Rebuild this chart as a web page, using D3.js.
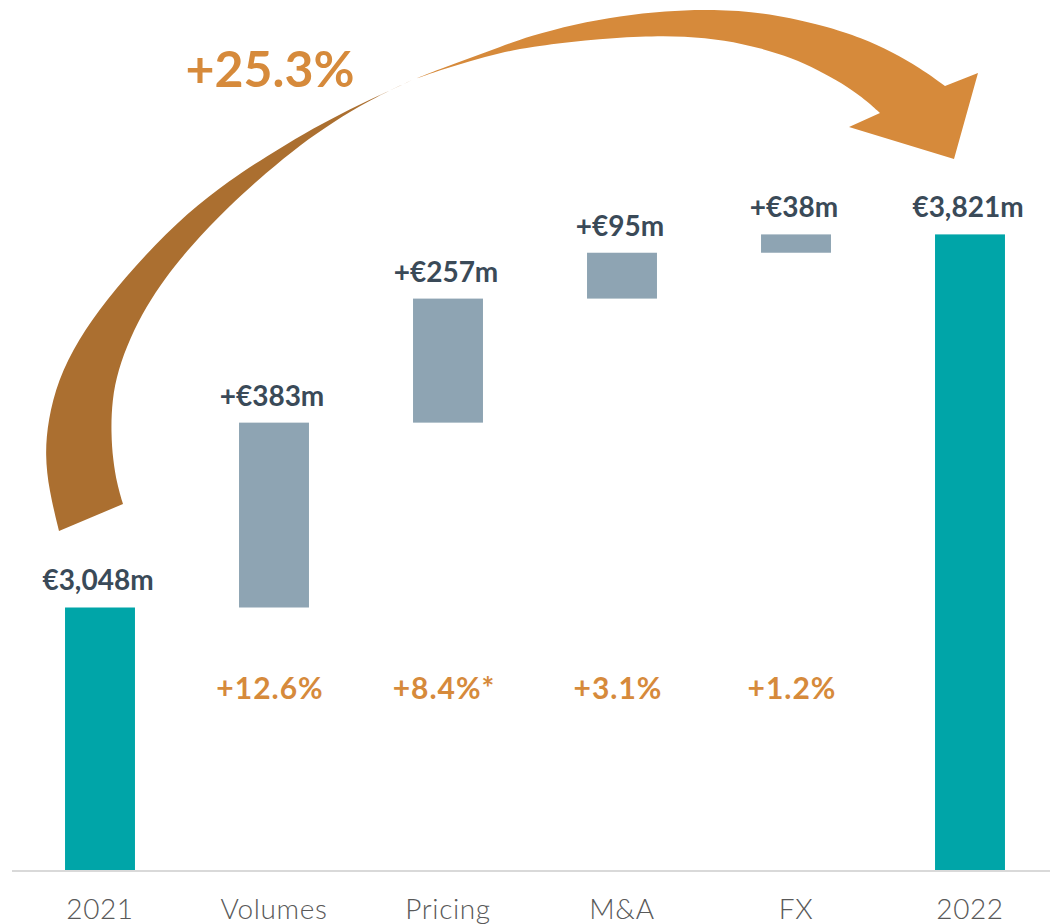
<!DOCTYPE html>
<html><head><meta charset="utf-8">
<script src="https://cdn.jsdelivr.net/npm/d3@7"></script>
<style>html,body{margin:0;padding:0;background:#fff}</style>
</head><body><svg id="c" width="1050" height="924"></svg>
<script>
const categories = ["2021", "Volumes", "Pricing", "M&A", "FX", "2022"];
const kinds = ["total", "delta", "delta", "delta", "delta", "total"];
const values = [3048, 383, 257, 95, 38, 3821];
const valueLabels = ["€3,048m", "+€383m", "+€257m", "+€95m", "+€38m", "€3,821m"];
const pctLabels = ["", "+12.6%", "+8.4%*", "+3.1%", "+1.2%", ""];
const totalGrowth = "+25.3%";

const svg = d3.select("#c");
const x = d3.scaleBand().domain(categories).range([13, 1057]).paddingInner(0.598).paddingOuter(0.299);
const y = d3.scaleLinear().domain([2500, 4000]).range([872, 148]);

// waterfall data
let run = 0;
const bars = categories.map((c, i) => {
  let lo, hi;
  if (kinds[i] === "total") { lo = 2500; hi = values[i]; run = values[i]; }
  else { lo = run; hi = run + values[i]; run = hi; }
  return {c, lo, hi, kind: kinds[i], label: valueLabels[i], pct: pctLabels[i]};
});

// arrow decoration (annotation)
const upperLeft = [[59,531],[49,490],[45,455],[48,420],[58,380],[78,340],[106,300],[145,255],[187,213],[230,180],[267,156],[305,133],[340,114],[378,96],[412,80]];
const lowerLeft = [[412,80],[370,100],[333,122],[300,145],[267,172],[228,207],[190,247],[165,278],[146,307],[130,338],[118,370],[112,400],[111,433],[113,460],[117,484],[123,504]];
const topRight = [[412,80],[440,69],[470,58],[500,47],[530,36],[575,24],[620,16],[665,11],[712,9],[770,13],[825,26],[862,38],[892,52],[920,68],[945,86]];
const head = [[945,86],[978,73],[954,159],[849,127],[880,113]];
const botRight = [[880,113],[862,97],[842,83],[818,70],[792,58],[760,48],[725,40],[685,36],[642,36],[585,40],[530,47],[500,53],[470,61],[440,70],[412,80]];
const curve = d3.line().curve(d3.curveBasis);
const leftPath = curve(upperLeft) + curve(lowerLeft).replace("M", "L") + "Z";
svg.append("path").attr("d", leftPath).attr("fill", "#AB6F30");
const rightPath = curve(topRight) + "L" + head.slice(1).map(p => p.join(",")).join("L") + curve(botRight).replace("M", "L") + "Z";
svg.append("path").attr("d", rightPath).attr("fill", "#D68A3B");

svg.append("text").attr("x", 270).attr("y", 87).attr("text-anchor", "middle")
  .attr("font-family", "Lato, 'Open Sans', sans-serif").attr("font-weight", 700)
  .attr("font-size", 50).attr("fill", "#D68A3B").text(totalGrowth);

// bars
svg.selectAll("rect.bar").data(bars).join("rect").attr("class", "bar")
  .attr("x", d => x(d.c)).attr("width", x.bandwidth())
  .attr("y", d => y(d.hi)).attr("height", d => y(d.lo) - y(d.hi))
  .attr("fill", d => d.kind === "total" ? "#00A5A8" : "#8EA4B3");

// axis line
svg.append("line").attr("x1", 12).attr("x2", 1050).attr("y1", 871).attr("y2", 871)
  .attr("stroke", "#D9D9D9").attr("stroke-width", 2);

// category labels
svg.selectAll("text.cat").data(categories).join("text").attr("class", "cat")
  .attr("x", d => x(d) + x.bandwidth() / 2).attr("y", 919).attr("text-anchor", "middle")
  .attr("font-family", "Lato, 'Open Sans', sans-serif").attr("font-weight", 300)
  .attr("font-size", 28).attr("letter-spacing", 0.6).attr("fill", "#595959").text(d => d);

// value labels
svg.selectAll("text.val").data(bars).join("text").attr("class", "val")
  .attr("x", d => x(d.c) + x.bandwidth() / 2 - 2).attr("y", d => y(d.hi) - 17).attr("text-anchor", "middle")
  .attr("font-family", "Lato, 'Open Sans', sans-serif").attr("font-weight", 700)
  .attr("font-size", 28).attr("fill", "#3A4A58").text(d => d.label);

// pct labels
svg.selectAll("text.pct").data(bars.filter(d => d.pct)).join("text").attr("class", "pct")
  .attr("x", d => x(d.c) + x.bandwidth() / 2 - 4).attr("y", 699).attr("text-anchor", "middle")
  .attr("font-family", "Lato, 'Open Sans', sans-serif").attr("font-weight", 700)
  .attr("font-size", 30).attr("letter-spacing", 1).attr("fill", "#D68A3B").text(d => d.pct);
</script></body></html>
